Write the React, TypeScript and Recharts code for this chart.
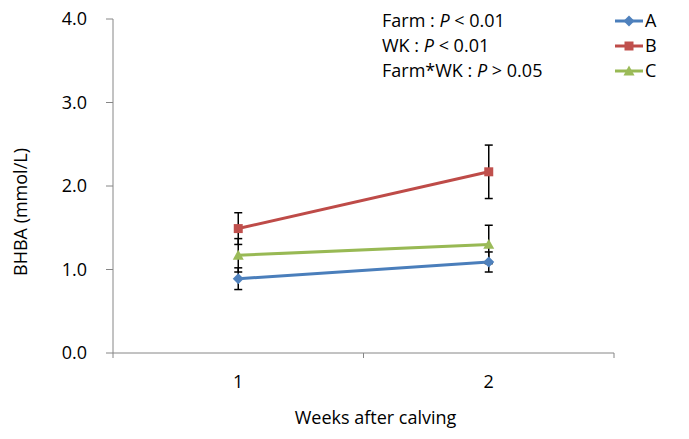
import React from 'react';
import { LineChart, Line, XAxis, YAxis, ErrorBar } from 'recharts';

const weekLabels = ['1', '2'];
const weeks = [1, 2];
const farmA = [0.89, 1.09];
const farmB = [1.49, 2.17];
const farmC = [1.17, 1.3];
const errA = [0.13, 0.12];
const errB = [0.19, 0.32];
const errC = [0.2, 0.23];
const yTicks = [0, 1, 2, 3, 4];
const xBoundaryTicks = [0.5, 1.5, 2.5];
const annotations = [
  { label: 'Farm', op: '<', p: '0.01' },
  { label: 'WK', op: '<', p: '0.01' },
  { label: 'Farm*WK', op: '>', p: '0.05' },
];

const series = [
  { key: 'A', err: 'eA', line: '#4A7EBB', fill: '#4F81BD', shape: 'diamond' },
  { key: 'B', err: 'eB', line: '#BE4B48', fill: '#C0504D', shape: 'square' },
  { key: 'C', err: 'eC', line: '#98B954', fill: '#9BBB59', shape: 'triangle' },
];

const rows = weeks.map((w, i) => ({
  week: w,
  A: farmA[i],
  B: farmB[i],
  C: farmC[i],
  eA: errA[i],
  eB: errB[i],
  eC: errC[i],
}));

const FONT = '"Open Sans", "Noto Sans", sans-serif';
const FS = 18;
const AXIS = '#868686';
const W = 689;
const H = 439;
const M = { top: 19, right: 75, bottom: 0, left: 0 };
const Y_W = 113;
const X_H = 86;
const PLOT_W = W - M.left - M.right - Y_W;
const HALF_BAND = PLOT_W / 4;

function markerPath(shape: string, cx: number, cy: number) {
  if (shape === 'diamond') {
    const r = 5.5;
    return `M${cx},${cy - r}L${cx + r},${cy}L${cx},${cy + r}L${cx - r},${cy}Z`;
  }
  if (shape === 'square') {
    const r = 4.5;
    return `M${cx - r},${cy - r}H${cx + r}V${cy + r}H${cx - r}Z`;
  }
  const r = 5.5;
  return `M${cx},${cy - r}L${cx + r},${cy + r * 0.8}L${cx - r},${cy + r * 0.8}Z`;
}

const makeDot = (shape: string, color: string) => (props: any) => {
  const { cx, cy, index } = props;
  return <path key={`dot-${shape}-${index}`} d={markerPath(shape, cx, cy)} fill={color} />;
};

const XTick = (props: any) => {
  const { x, y, index } = props;
  if (index >= weekLabels.length) return <g />;
  return (
    <text x={x + HALF_BAND} y={y + 22} dy="0.355em" textAnchor="middle" fontSize={FS} fontFamily={FONT} fill="#000">
      {weekLabels[index]}
    </text>
  );
};

export default function App() {
  return (
    <div style={{ position: 'absolute', left: 0, top: 0, width: W, height: H, background: '#fff', fontFamily: FONT }}>
      <LineChart width={W} height={H} data={rows} margin={M}>
        <XAxis
          dataKey="week"
          type="number"
          domain={[0.5, 2.5]}
          ticks={xBoundaryTicks}
          height={X_H}
          stroke={AXIS}
          tickSize={5}
          tickMargin={2}
          tick={<XTick />}
          interval={0}
          label={(p: any) => {
            const vb = p.viewBox || {};
            return (
              <text x={vb.x + vb.width / 2 + 12} y={418} dy="0.355em" textAnchor="middle" fontSize={FS} fontFamily={FONT} fill="#000">
                Weeks after calving
              </text>
            );
          }}
        />
        <YAxis
          type="number"
          domain={[0, 4]}
          ticks={yTicks}
          width={Y_W}
          stroke={AXIS}
          tickSize={7}
          tickMargin={19}
          tick={{ fill: '#000', fontSize: FS, fontFamily: FONT }}
          tickFormatter={(v: number) => v.toFixed(1)}
          interval={0}
          label={() => (
            <text
              x={21}
              y={212}
              transform="rotate(-90 21 212)"
              textAnchor="middle"
              dy="0.355em"
              fontSize={FS}
              fontFamily={FONT}
              fill="#000"
            >
              BHBA (mmol/L)
            </text>
          )}
        />
        {series.map((s) => (
          <Line
            key={s.key}
            dataKey={s.key}
            name={s.key}
            stroke={s.line}
            strokeWidth={3}
            isAnimationActive={false}
            dot={makeDot(s.shape, s.fill)}
            activeDot={false}
          >
            <ErrorBar dataKey={s.err} width={4} stroke="#000" strokeWidth={1.5} direction="y" />
          </Line>
        ))}
      </LineChart>
      <div style={{ position: 'absolute', left: 382, top: 8, fontSize: FS, lineHeight: '25px', color: '#000', whiteSpace: 'nowrap' }}>
        {annotations.map((a) => (
          <div key={a.label}>
            {a.label} : <i>P</i> {a.op} {a.p}
          </div>
        ))}
      </div>
      <svg style={{ position: 'absolute', left: 610, top: 8 }} width={79} height={80}>
        {series.map((s, i) => {
          const cy = 13 + i * 25;
          return (
            <g key={s.key}>
              <line x1={5} x2={33} y1={cy} y2={cy} stroke={s.line} strokeWidth={3} />
              <path d={markerPath(s.shape, 19, cy)} fill={s.fill} />
              <text x={35} y={cy} dy="0.355em" fontSize={FS} fontFamily={FONT} fill="#000">
                {s.key}
              </text>
            </g>
          );
        })}
      </svg>
    </div>
  );
}
